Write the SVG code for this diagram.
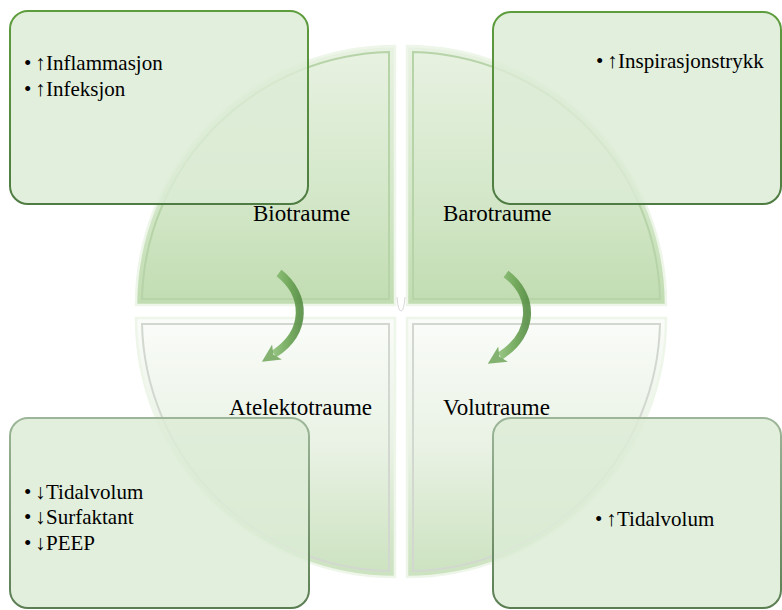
<svg xmlns="http://www.w3.org/2000/svg" width="782" height="610" viewBox="0 0 782 610">
<style>
  .lbl { font-family: 'Liberation Serif', 'Times New Roman', serif; font-size: 23px; fill: #000; }
  .txt { font-family: 'Liberation Serif', 'Times New Roman', serif; font-size: 21px; fill: #000; }
  .box { fill: #dcebd5; fill-opacity: 0.82; stroke-width: 2; }
  .quad { stroke: #eef6ea; stroke-width: 2.5; }
  .bevel { fill: none; stroke-width: 2; }
  .arc { fill: none; stroke: url(#arrowGrad); stroke-width: 8; stroke-linecap: butt; opacity: 0.9; }
</style>
<defs>
  <linearGradient id="topGrad" x1="0" y1="0" x2="0" y2="1">
    <stop offset="0" stop-color="#e8f2e2"/>
    <stop offset="0.6" stop-color="#d3e7c8"/>
    <stop offset="1" stop-color="#c1dcb1"/>
  </linearGradient>
  <linearGradient id="botGrad" x1="0" y1="0" x2="0" y2="1">
    <stop offset="0" stop-color="#fafcf9"/>
    <stop offset="0.5" stop-color="#e9f2e4"/>
    <stop offset="1" stop-color="#cbe2bf"/>
  </linearGradient>
  <linearGradient id="topStroke" x1="0" y1="0" x2="0" y2="1">
    <stop offset="0" stop-color="#5e9d3d"/>
    <stop offset="1" stop-color="#4f7c43"/>
  </linearGradient>
  <linearGradient id="botStroke" x1="0" y1="0" x2="0" y2="1">
    <stop offset="0" stop-color="#9db699"/>
    <stop offset="1" stop-color="#5b7e53"/>
  </linearGradient>
  <linearGradient id="arrowGrad" x1="0" y1="0" x2="1" y2="0">
    <stop offset="0" stop-color="#8cbf77"/>
    <stop offset="0.6" stop-color="#6aa353"/>
    <stop offset="1" stop-color="#578f45"/>
  </linearGradient>
  <marker id="head" viewBox="0 0 10 10" refX="2" refY="5" markerWidth="18" markerHeight="20" markerUnits="userSpaceOnUse" orient="auto">
    <path d="M0,0 L10,5 L0,10 L2.5,5 Z" fill="#69a253" opacity="0.9"/>
  </marker>
</defs>

<g id="circle">
  <g id="q-biotraume">
    <path class="quad" d="M395,305 L136,305 A259,259 0 0 1 395,46 Z" fill="url(#topGrad)"/>
    <path class="bevel" stroke="#b7d3a8" d="M389,299 L142,299 A253,253 0 0 1 389,52 Z"/>
  </g>
  <g id="q-barotraume">
    <path class="quad" d="M407,305 L407,46 A259,259 0 0 1 666,305 Z" fill="url(#topGrad)"/>
    <path class="bevel" stroke="#b7d3a8" d="M413,299 L413,52 A253,253 0 0 1 660,299 Z"/>
  </g>
  <g id="q-atelektotraume">
    <path class="quad" d="M395,318 L395,577 A259,259 0 0 1 136,318 Z" fill="url(#botGrad)"/>
    <path class="bevel" stroke="#d2d8d0" d="M389,324 L389,571 A253,253 0 0 1 142,324 Z"/>
  </g>
  <g id="q-volutraume">
    <path class="quad" d="M407,318 L666,318 A259,259 0 0 1 407,577 Z" fill="url(#botGrad)"/>
    <path class="bevel" stroke="#d2d8d0" d="M413,324 L660,324 A253,253 0 0 1 413,571 Z"/>
  </g>
  <path d="M397,297 Q398,311 401,311 Q404,311 405,297" fill="none" stroke="#d8d8d8" stroke-width="1"/>
</g>

<g id="box-bio">
  <rect class="box" x="10" y="11" width="298" height="193" rx="18" stroke="url(#topStroke)"/>
  <text class="txt" y="70"><tspan x="24">•</tspan><tspan x="35">↑</tspan><tspan x="46">Inflammasjon</tspan></text>
  <text class="txt" y="96"><tspan x="24">•</tspan><tspan x="35">↑</tspan><tspan x="46">Infeksjon</tspan></text>
</g>
<g id="box-baro">
  <rect class="box" x="493" y="12" width="288" height="192" rx="18" stroke="url(#topStroke)"/>
  <text class="txt" y="68"><tspan x="596">•</tspan><tspan x="607">↑</tspan><tspan x="618">Inspirasjonstrykk</tspan></text>
</g>
<g id="box-atelekto">
  <rect class="box" x="10" y="418" width="299" height="190" rx="18" stroke="url(#botStroke)"/>
  <text class="txt" y="499"><tspan x="24">•</tspan><tspan x="35">↓</tspan><tspan x="46">Tidalvolum</tspan></text>
  <text class="txt" y="524"><tspan x="24">•</tspan><tspan x="35">↓</tspan><tspan x="46">Surfaktant</tspan></text>
  <text class="txt" y="550"><tspan x="24">•</tspan><tspan x="35">↓</tspan><tspan x="46">PEEP</tspan></text>
</g>
<g id="box-volu">
  <rect class="box" x="493" y="418" width="288" height="190" rx="18" stroke="url(#botStroke)"/>
  <text class="txt" y="526"><tspan x="595">•</tspan><tspan x="606">↑</tspan><tspan x="617">Tidalvolum</tspan></text>
</g>

<g id="labels">
  <text class="lbl" x="253" y="221">Biotraume</text>
  <text class="lbl" x="443" y="221">Barotraume</text>
  <text class="lbl" x="229" y="415">Atelektotraume</text>
  <text class="lbl" x="443" y="415">Volutraume</text>
</g>

<g id="connectors">
  <path class="arc" d="M279,273 C307,295 308,332 274,354" marker-end="url(#head)"/>
  <path class="arc" d="M506,274 C535,296 535,334 500,356" marker-end="url(#head)"/>
</g>
</svg>
